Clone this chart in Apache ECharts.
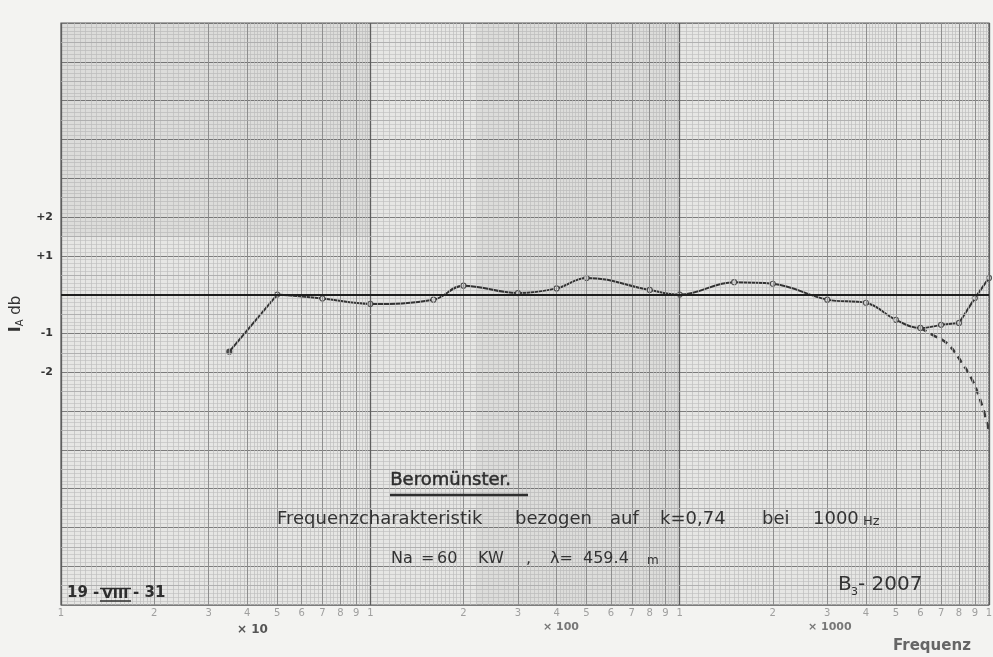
<!DOCTYPE html>
<html>
<head>
<meta charset="utf-8">
<script src="https://cdn.jsdelivr.net/npm/echarts@6/dist/echarts.min.js"></script>
<style>
html,body{margin:0;padding:0;background:#f3f3f1;}
#chart{width:993px;height:657px;}
</style>
</head>
<body>
<div id="chart"></div>
<script>
// Measured points (frequency in Hz, level in dB)
const freqHz = [35, 50, 70, 100, 160, 200, 300, 400, 500, 800, 1000, 1500, 2000, 3000, 4000, 5000, 6000, 7000, 8000, 9000, 10000];
const gainDb = [-1.47, 0.0, -0.1, -0.24, -0.13, 0.23, 0.04, 0.16, 0.43, 0.12, 0.0, 0.32, 0.28, -0.13, -0.21, -0.65, -0.86, -0.78, -0.73, -0.09, 0.43];
// Dashed extrapolated fall-off
const dashFreqHz = [6000, 6500, 7350, 8100, 8850, 9540, 10000];
const dashGainDb = [-0.86, -1.02, -1.27, -1.71, -2.22, -2.91, -3.51];
// X tick labels (log paper digits)
const xTickValues = [10, 20, 30, 40, 50, 60, 70, 80, 90, 100, 200, 300, 400, 500, 600, 700, 800, 900, 1000, 2000, 3000, 4000, 5000, 6000, 7000, 8000, 9000, 10000];
const xTickLabels = ['1', '2', '3', '4', '5', '6', '7', '8', '9', '1', '2', '3', '4', '5', '6', '7', '8', '9', '1', '2', '3', '4', '5', '6', '7', '8', '9', '1'];
// Y tick labels shown
const yTickValues = [2, 1, -1, -2];
const yTickLabels = ['+2', '+1', '-1', '-2'];
const decades = [10, 100, 1000, 10000];

function pairs(xs, ys, from, to) {
  const out = [];
  for (let i = from; i <= to; i++) out.push([xs[i], ys[i]]);
  return out;
}

// graph-paper vertical rulings
const fine = { color: '#bdbdbd', width: 0.7, type: 'solid' };
const mid = { color: '#8e8e8e', width: 1, type: 'solid' };
const major = { color: '#5e5e5e', width: 1.3, type: 'solid' };
const vLines = [];
[10, 100, 1000].forEach(d => {
  for (let k = 21; k < 40; k++) vLines.push({ xAxis: d * k / 20, lineStyle: fine });
  for (let k = 21; k < 50; k++) if (k % 10) vLines.push({ xAxis: d * k / 10, lineStyle: fine });
  for (let k = 26; k < 50; k++) if (k % 5) vLines.push({ xAxis: d * k / 5, lineStyle: fine });
  for (let k = 2; k <= 9; k++) vLines.push({ xAxis: d * k, lineStyle: mid });
});
decades.forEach(d => vLines.push({ xAxis: d, lineStyle: major }));
// half-dB rulings
const hLines = [];
for (let k = -15; k < 14; k += 2) hLines.push({ yAxis: k / 2, lineStyle: { color: '#a9a9a9', width: 0.8, type: 'solid' } });

const chart = echarts.init(document.getElementById('chart'), null, { renderer: 'canvas' });
const font = '"DejaVu Sans", "Liberation Sans", sans-serif';
const ink = '#2e2e2e';

function txt(x, y, s, size, opts) {
  return {
    type: 'text', left: x, top: y, z: 50,
    style: Object.assign({ text: s, font: (opts && opts.weight ? opts.weight + ' ' : '') + size + 'px ' + font, fill: ink }, opts && opts.style)
  };
}

chart.setOption({
  backgroundColor: '#f3f3f1',
  animation: false,
  grid: { left: 61, right: 4, top: 23, bottom: 52, show: true, backgroundColor: '#e6e6e4', borderColor: '#5a5a5a', borderWidth: 1.2 },
  xAxis: {
    type: 'log', logBase: 10, min: 10, max: 10000,
    axisLine: { show: false }, axisTick: { show: false }, axisLabel: { show: false },
    splitLine: { show: false }
  },
  yAxis: {
    type: 'value', min: -8, max: 7, interval: 1,
    axisLine: { show: false }, axisTick: { show: false },
    axisLabel: {
      margin: 8, color: '#333', fontSize: 11, fontWeight: 'bold', fontFamily: font,
      formatter: v => { const i = yTickValues.indexOf(v); return i >= 0 ? yTickLabels[i] : ''; }
    },
    splitLine: { show: true, lineStyle: { color: '#7c7c7c', width: 1.1 } },
    minorTick: { show: false, splitNumber: 10 },
    minorSplitLine: { show: true, lineStyle: { color: '#c2c2c2', width: 0.7 } },
    name: '{i|I}{s|A}{n| db}', nameLocation: 'middle', nameGap: 36, nameRotate: 90,
    nameTextStyle: {
      rich: {
        i: { fontSize: 16, fontFamily: font, color: '#333', fontWeight: 'bold' },
        s: { fontSize: 10, fontFamily: font, color: '#333', verticalAlign: 'bottom', padding: [8, 0, 0, 0] },
        n: { fontSize: 15, fontFamily: font, color: '#333' }
      }
    }
  },
  series: [
    {
      name: 'paper', type: 'line', data: [], z: 1, silent: true,
      markArea: { silent: true, itemStyle: { color: 'rgba(0,0,0,0.045)' },
        data: [
          [{ xAxis: 10, yAxis: 1.5 }, { xAxis: 100, yAxis: 7 }],
          [{ xAxis: 220, yAxis: -8 }, { xAxis: 1000, yAxis: 7 }]
        ] },
      markLine: { silent: true, symbol: 'none', label: { show: false }, animation: false, data: vLines.concat(hLines) }
    },
    {
      name: 'zero', type: 'line', data: [], z: 2, silent: true,
      markLine: { silent: true, symbol: 'none', label: { show: false }, animation: false,
        data: [{ yAxis: 0, lineStyle: { color: '#1e1e1e', width: 1.8, type: 'solid' } }] }
    },
    {
      name: 'segA', type: 'line', data: pairs(freqHz, gainDb, 0, 1), showSymbol: false, z: 3,
      lineStyle: { color: '#333', width: 2 }
    },
    {
      name: 'segB', type: 'line', data: pairs(freqHz, gainDb, 1, 17), showSymbol: false, smooth: 0.4, z: 3,
      lineStyle: { color: '#333', width: 2 }
    },
    {
      name: 'segC', type: 'line', data: pairs(freqHz, gainDb, 17, 20), showSymbol: false, z: 3,
      lineStyle: { color: '#333', width: 2 }
    },
    {
      name: 'dashed', type: 'line', data: pairs(dashFreqHz, dashGainDb, 0, dashFreqHz.length - 1), showSymbol: false, smooth: 0.4, z: 3,
      lineStyle: { color: '#3a3a3a', width: 2.6, type: [7, 5] }
    },
    {
      name: 'points', type: 'scatter', data: pairs(freqHz, gainDb, 0, freqHz.length - 1), z: 4,
      symbol: 'circle', symbolSize: 5,
      itemStyle: { color: (p) => p.dataIndex === 0 ? '#333' : '#f4f4f4', borderColor: '#333', borderWidth: 1.2 }
    },
    {
      name: 'ticklabels', type: 'scatter', data: xTickValues.map(v => [v, -8]), z: 5, silent: true, clip: false,
      symbolSize: 1, itemStyle: { color: 'rgba(0,0,0,0)' },
      label: { show: true, position: 'bottom', distance: 3, color: '#8a8a8a', fontSize: 10, fontFamily: font,
        formatter: p => xTickLabels[p.dataIndex] }
    }
  ],
  graphic: [
    txt(390, 471, 'Beromünster.', 18, { style: { stroke: ink, lineWidth: 0.5 } }),
    { type: 'line', z: 50, shape: { x1: 390, y1: 495, x2: 528, y2: 495 }, style: { stroke: ink, lineWidth: 2.5 } },
    txt(277, 510, 'Frequenzcharakteristik', 18, { style: { fill: '#333' } }),
    txt(515, 510, 'bezogen', 18, { style: { fill: '#333' } }),
    txt(610, 510, 'auf', 18, { style: { fill: '#333' } }),
    txt(660, 510, 'k=0,74', 18, { style: { fill: '#333' } }),
    txt(762, 510, 'bei', 18, { style: { fill: '#333' } }),
    txt(813, 510, '1000', 18, { style: { fill: '#333' } }),
    txt(863, 515, 'Hz', 13, { style: { fill: '#333' } }),
    txt(391, 551, 'Na', 16, { style: { fill: '#333' } }),
    txt(421, 551, '=', 16, { style: { fill: '#333' } }),
    txt(437, 551, '60', 16, { style: { fill: '#333' } }),
    txt(478, 551, 'KW', 16, { style: { fill: '#333' } }),
    txt(526, 551, ',', 16, { style: { fill: '#333' } }),
    txt(550, 551, 'λ=', 16, { style: { fill: '#333' } }),
    txt(583, 551, '459.4', 16, { style: { fill: '#333' } }),
    txt(647, 555, 'm', 12, { style: { fill: '#333' } }),
    txt(67, 586, '19 -', 15, { weight: 'bold' }),
    txt(102, 587, 'VIII', 14, { weight: 'bold' }),
    { type: 'line', z: 50, shape: { x1: 100, y1: 588.5, x2: 131, y2: 588.5 }, style: { stroke: ink, lineWidth: 1.5 } },
    { type: 'line', z: 50, shape: { x1: 100, y1: 601, x2: 131, y2: 601 }, style: { stroke: ink, lineWidth: 1.5 } },
    txt(133, 586, '- 31', 15, { weight: 'bold' }),
    txt(838, 575, 'B', 20, { style: { fill: '#333' } }),
    txt(851, 587, '3', 11, { style: { fill: '#333' } }),
    txt(858, 575, '- 2007', 20, { style: { fill: '#333' } }),
    txt(237, 624, '× 10', 12, { weight: 'bold', style: { fill: '#555' } }),
    txt(543, 622, '× 100', 11, { weight: 'bold', style: { fill: '#777' } }),
    txt(808, 622, '× 1000', 11, { weight: 'bold', style: { fill: '#777' } }),
    txt(893, 639, 'Frequenz', 15, { weight: 'bold', style: { fill: '#666' } })
  ]
});
</script>
</body>
</html>
